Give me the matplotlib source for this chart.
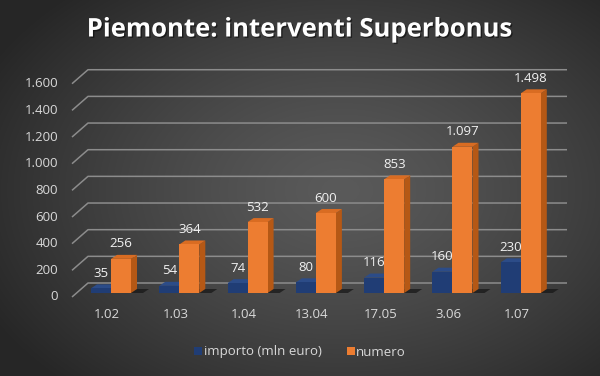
import numpy as np
import matplotlib
matplotlib.use("Agg")
import matplotlib.pyplot as plt
from matplotlib.patches import Polygon, Patch
import matplotlib.patheffects as pe

# ---------------- data ----------------
categories = ["1.02", "1.03", "1.04", "13.04", "17.05", "3.06", "1.07"]
importo = [35, 54, 74, 80, 116, 160, 230]
numero = [256, 364, 532, 600, 853, 1097, 1498]
yticks = [0, 200, 400, 600, 800, 1000, 1200, 1400, 1600]
ytick_labels = ["0", "200", "400", "600", "800", "1.000", "1.200", "1.400", "1.600"]
title = "Piemonte: interventi Superbonus"
series_names = ["importo (mln euro)", "numero"]


def fmt_label(v):
    return f"{v:,}".replace(",", ".")


# ---------------- figure ----------------
W, H = 600, 376
fig = plt.figure(figsize=(W / 100, H / 100), dpi=100)

# background radial gradient
bg = fig.add_axes([0, 0, 1, 1], zorder=-10)
yy, xx = np.mgrid[0:H, 0:W]
d = np.sqrt(((xx - 340) / 400.0) ** 2 + ((yy - 190) / 270.0) ** 2)
d = np.clip(d, 0, 1)
light, dark = 0x5a / 255, 0x26 / 255
val = light - (light - dark) * d ** 1.3
img = np.dstack([val, val, val])
bg.imshow(img, aspect="auto", extent=[0, 1, 0, 1], origin="upper")
bg.set_axis_off()

ax = fig.add_axes([0, 0, 1, 1])
ax.set_facecolor("none")
ax.set_axis_off()

# pixel -> data mapping
px_per_cat = 68.3
px_per_unit = 0.1333
x0_px, base_px = 111.0, 293.0
ax.set_xlim((0 - x0_px) / px_per_cat, (W - x0_px) / px_per_cat)
ax.set_ylim((base_px - H) / px_per_unit, base_px / px_per_unit)


def px_dx(p):
    return p / px_per_cat


def px_dy(p):
    return p / px_per_unit


# back wall gridlines with diagonal front ticks
wall_dx, wall_dy = px_dx(16), px_dy(10)
front_drop = px_dy(4)
front_left = px_dx(72 - x0_px)
wall_right = px_dx(567 - x0_px)
grid_col = "#8c8c8c"
for v, lab in zip(yticks, ytick_labels):
    ax.plot([front_left, front_left + wall_dx, wall_right],
            [v - front_drop, v + wall_dy, v + wall_dy], color=grid_col, lw=1.1,
            zorder=1, solid_capstyle="butt")
    ax.text(front_left - px_dx(14), v - front_drop, lab, ha="right", va="center",
            color="#d9d9d9", fontsize=9.5, family="Open Sans")

# bars (front faces via ax.bar, sides/tops as polygons)
bw = px_dx(20)
bdx, bdy = px_dx(6), px_dy(4)
x = np.arange(len(categories))
series = [
    (importo, -bw / 2, "#203d75", "#15294f", "#2c4c88"),
    (numero, bw / 2, "#ed7d31", "#b55815", "#d96c22"),
]

# floor shadows
for i in x:
    xl = i - bw
    xr = i + bw
    ax.add_patch(Polygon([(xl, 0), (xr + px_dx(12), 0), (xr + px_dx(12) + bdx, bdy),
                          (xl + bdx, bdy)],
                         closed=True, facecolor="#151515", edgecolor="none",
                         alpha=0.7, zorder=2))

for vals, off, fc, sc, tc in series:
    xs = x + off
    ax.bar(xs, vals, width=bw, color=fc, zorder=5, linewidth=0)
    for xc, v in zip(xs, vals):
        xl, xr = xc - bw / 2, xc + bw / 2
        ax.add_patch(Polygon([(xr, 0), (xr + bdx, bdy), (xr + bdx, v + bdy), (xr, v)],
                             closed=True, facecolor=sc, edgecolor="none", zorder=4))
        ax.add_patch(Polygon([(xl, v), (xl + bdx, v + bdy), (xr + bdx, v + bdy), (xr, v)],
                             closed=True, facecolor=tc, edgecolor="none", zorder=4))
        ax.text(xc, v + px_dy(15), fmt_label(v), ha="center", va="center",
                color="#f2f2f2", fontsize=9.5, family="Open Sans", zorder=6)

# category labels
for i, c in enumerate(categories):
    ax.text(i - px_dx(4), -px_dy(314 - base_px), c, ha="center", va="center",
            color="#d9d9d9", fontsize=9.5, family="Open Sans")

# title
fig.text(0.5, 1 - 29 / H, title, ha="center", va="center", color="white",
         fontsize=18.5, fontweight="bold", family="Open Sans",
         path_effects=[pe.withSimplePatchShadow(offset=(1, -1), shadow_rgbFace="black",
                                                alpha=0.5)])

# legend
handles = [Patch(facecolor=series[0][2]), Patch(facecolor=series[1][2])]
leg = fig.legend(handles, series_names, loc="center", bbox_to_anchor=(0.5, 1 - 352 / H),
                 ncol=2, frameon=False, handlelength=0.6, handleheight=0.6,
                 handletextpad=0.1, columnspacing=1.9,
                 prop={"family": "Open Sans", "size": 9.5})
for t in leg.get_texts():
    t.set_color("#d9d9d9")

fig.savefig("out.png", dpi=100)
